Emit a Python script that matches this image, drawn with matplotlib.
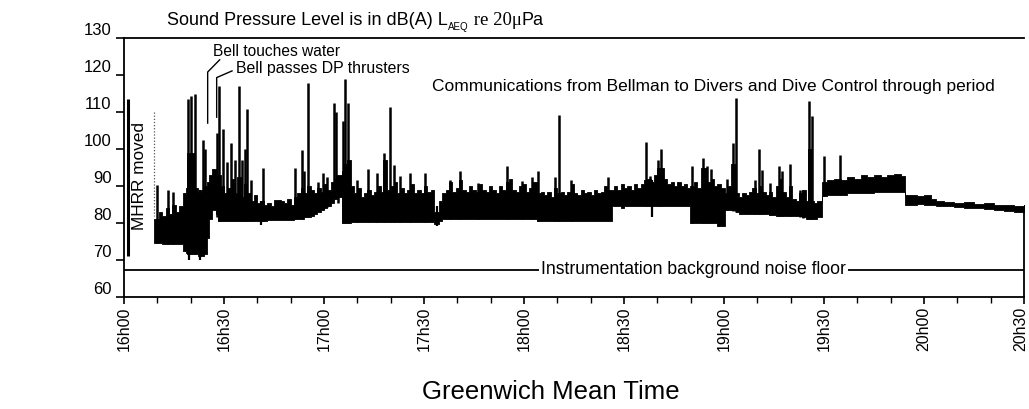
import numpy as np
import matplotlib
matplotlib.use("Agg")
import matplotlib.pyplot as plt
import matplotlib.transforms as mtransforms

W, H = 1029, 409

# ---------------- data (time in minutes after 16h00, level in dB(A)) ----------------
band_t = [9.0, 10.5, 11.5, 12.5, 13.5, 14.5, 15.5, 16.5, 17.6, 18.6, 19.0, 21.4, 22.2, 23.2, 24.0,
          24.8, 25.4, 26.3, 27.5, 28.2, 29.0, 30.0, 31.0, 32.0, 33.0, 34.0, 35.0, 36.0, 37.0, 38.0,
          39.0, 40.0, 41.0, 42.0, 43.0, 44.0, 45.0, 47.0, 48.0, 49.0, 50.0, 51.0, 52.0, 53.0, 54.0,
          55.0, 56.0, 57.0, 58.0, 59.0, 60.0, 61.0, 62.0, 63.0, 64.0, 65.3, 66.0, 67.0, 68.0, 69.0,
          70.0, 71.0, 72.0, 73.0, 74.0, 75.0, 76.0, 77.0, 77.8, 78.8, 80.0, 81.0, 82.0, 83.0, 84.0,
          85.0, 86.0, 87.0, 88.0, 89.0, 90.0, 91.0, 92.0, 93.0, 94.5, 95.5, 96.5, 97.5, 98.5, 99.5,
          100.5, 101.5, 102.5, 103.5, 104.5, 105.5, 106.5, 107.5, 108.5, 109.5, 110.5, 111.5, 112.5,
          113.5, 114.5, 115.5, 116.5, 117.5, 118.5, 119.5, 120.5, 121.5, 122.5, 123.8, 125.0, 126.0,
          127.0, 128.0, 129.0, 130.0, 131.0, 132.0, 133.0, 134.0, 135.0, 136.0, 137.0, 138.0, 139.0,
          140.0, 141.0, 142.0, 143.0, 144.0, 145.0, 146.3, 147.0, 148.0, 149.0, 150.0, 151.0, 152.0,
          153.0, 154.0, 155.0, 156.0, 157.0, 158.0, 159.0, 160.0, 162.0, 163.0, 164.0, 165.0, 166.0,
          167.0, 168.0, 169.0, 169.8, 171.0, 172.0, 173.0, 175.0, 176.0, 177.0, 178.0, 179.0, 180.3,
          181.3, 182.0, 183.5, 184.5, 185.5, 186.5, 187.5, 188.5, 189.5, 190.5, 191.5, 192.5, 193.5,
          194.5, 195.5, 196.5, 197.5, 198.5, 199.5, 200.5, 201.5, 202.5, 203.5, 204.5, 205.3, 206.3,
          207.0, 208.0, 209.3, 211.0, 213.0, 215.0, 217.0, 219.0, 221.0, 223.0, 225.0, 227.0, 229.0,
          231.0, 233.0, 234.3, 236.0, 238.0, 240.0, 242.0, 243.5, 246.0, 249.0, 252.0, 255.0, 258.0,
          261.0, 264.0, 267.0, 270.0]
band_lo = [74.5, 74.5, 74.3, 74.3, 74.3, 74.3, 74.3, 74.3, 72.5, 72.0, 71.5, 71.5, 71.0, 71.0, 71.5,
           76.0, 81.0, 83.5, 82.5, 80.5, 80.5, 80.5, 80.5, 80.5, 80.5, 80.5, 80.5, 80.5, 80.5, 80.5,
           80.5, 80.5, 80.5, 80.5, 80.7, 80.7, 80.7, 80.7, 80.7, 80.7, 80.7, 81.0, 81.0, 81.0, 81.5,
           81.5, 81.8, 82.5, 83.0, 83.5, 84.0, 84.5, 85.5, 86.5, 87.0, 80.0, 80.0, 80.0, 80.3, 80.3,
           80.3, 80.3, 80.3, 80.3, 80.3, 80.3, 80.3, 80.3, 80.3, 80.3, 80.3, 80.3, 80.3, 80.3, 80.3,
           80.3, 80.3, 80.3, 80.3, 80.3, 80.3, 80.3, 80.3, 79.8, 80.5, 81.0, 81.0, 81.0, 81.0, 81.0,
           81.0, 81.0, 81.0, 81.0, 81.0, 81.0, 81.0, 81.0, 81.0, 81.2, 81.2, 81.2, 81.2,
           81.2, 81.2, 81.2, 81.2, 81.2, 81.2, 81.2, 81.2, 81.2, 81.2, 80.5, 80.5, 80.5,
           80.5, 80.5, 80.5, 80.5, 80.5, 80.5, 80.5, 80.5, 80.5, 80.5, 80.5, 80.5, 80.5,
           80.5, 80.5, 80.5, 80.5, 80.5, 80.5, 84.5, 84.5, 84.5, 84.0, 84.5, 84.5, 84.5,
           84.5, 84.5, 84.5, 84.5, 84.5, 84.5, 84.5, 84.5, 84.5, 84.5, 84.5, 84.5, 84.5,
           84.5, 84.5, 84.5, 80.0, 80.0, 80.0, 80.0, 80.0, 80.0, 80.0, 79.3, 79.3, 83.5,
           83.5, 83.5, 83.0, 82.5, 82.5, 82.5, 82.5, 82.5, 82.5, 82.5, 82.5, 82.5, 82.2,
           82.2, 82.0, 82.0, 82.0, 81.8, 81.8, 81.8, 81.8, 81.8, 81.5, 81.0, 81.0, 81.0,
           81.0, 81.5, 87.3, 87.5, 87.5, 87.7, 88.0, 88.0, 88.0, 88.2, 88.3, 88.5, 88.5,
           88.5, 88.5, 84.8, 85.0, 85.2, 85.0, 85.0, 84.5, 84.5, 84.3, 84.0, 84.0, 83.7,
           83.5, 83.2, 83.0, 83.0]
band_hi = [81.0, 83.0, 82.0, 84.0, 82.5, 85.0, 83.0, 84.5, 88.0, 89.5, 99.0, 89.5, 88.5, 89.0, 90.0,
           91.0, 93.0, 94.5, 92.0, 93.0, 90.0, 88.0, 89.5, 92.0, 88.0, 92.5, 87.0, 90.5, 88.0, 86.0,
           87.5, 85.5, 86.0, 85.0, 85.5, 84.5, 86.3, 86.0, 85.5, 86.5, 85.0, 87.0, 88.0, 89.5, 88.0,
           90.0, 89.0, 88.0, 89.5, 88.5, 90.5, 89.0, 91.0, 92.0, 93.0, 94.0, 96.0, 97.0, 90.0, 88.0,
           89.5, 87.0, 88.0, 89.0, 87.5, 88.5, 90.0, 88.5, 97.0, 89.0, 90.0, 91.0, 88.0, 89.5, 88.0,
           89.0, 90.5, 88.0, 89.0, 88.0, 90.0, 88.5, 89.0, 83.0, 86.0, 88.0, 89.0, 91.0, 88.5, 89.5,
           91.5, 89.0, 88.5, 90.0, 89.0, 88.5, 90.5, 89.0, 88.5, 90.0, 89.0, 88.0, 90.0,
           89.0, 91.0, 92.0, 89.0, 88.5, 90.0, 90.5, 88.5, 89.5, 91.0, 88.0, 88.5, 87.5,
           88.5, 87.0, 89.5, 88.0, 88.5, 87.5, 88.5, 90.5, 88.0, 87.5, 89.0, 88.0, 88.5,
           87.5, 89.0, 88.0, 88.5, 90.0, 89.0, 89.0, 90.0, 89.0, 90.5, 89.5, 90.0, 89.0,
           90.5, 89.5, 90.5, 91.5, 92.0, 91.0, 93.0, 95.0, 92.0, 90.5, 91.0, 90.0, 91.0,
           90.0, 90.5, 89.5, 90.0, 91.0, 89.5, 95.0, 91.0, 92.0, 90.0, 90.5, 89.5, 88.0,
           90.0, 96.0, 88.0, 87.0, 88.0, 87.5, 88.5, 89.5, 88.0, 90.0, 88.5, 87.5, 88.5,
           87.0, 90.0, 92.0, 88.5, 87.0, 90.0, 86.5, 86.0, 88.0, 89.0, 86.0, 100.0, 86.0,
           85.5, 86.0, 91.0, 91.5, 92.0, 91.5, 92.5, 92.0, 93.0, 92.5, 93.0, 92.5, 93.0,
           93.3, 92.8, 87.5, 87.5, 87.3, 87.6, 86.5, 86.0, 85.8, 85.5, 85.6, 85.2, 85.3,
           85.0, 84.8, 84.6, 84.8]

spike_t = [10.0, 13.3, 14.8, 19.2, 20.2, 21.2, 23.8, 24.3, 27.8, 28.5, 29.6, 30.8, 32.1, 33.3,
           34.6, 35.5, 36.3, 37.0, 38.0, 41.8, 51.3, 53.3, 54.0, 55.3, 58.3, 59.8, 60.8, 63.0,
           63.6, 64.3, 65.6, 66.3, 67.3, 69.8, 73.3, 76.0, 78.1, 79.8, 81.1, 82.8, 85.8, 90.3,
           97.8, 100.8, 106.3, 114.8, 119.3, 122.3, 124.1, 129.3, 130.5, 134.1, 145.3, 156.6,
           157.8, 160.3, 161.0, 170.3, 173.6, 174.8, 176.1, 180.8, 182.6, 183.6, 189.3, 190.5,
           191.3, 193.8, 196.6, 197.3, 199.8, 202.8, 203.8, 205.6, 206.3, 210.1, 214.8]
spike_top = [90.3, 89.0, 88.5, 113.4, 114.3, 114.8, 102.5, 100.0, 104.3, 117.0, 105.3, 96.5, 101.5,
             97.0, 117.0, 97.0, 100.0, 110.7, 91.5, 95.0, 95.0, 99.6, 94.0, 117.8, 91.0, 93.6,
             92.5, 112.5, 110.0, 92.5, 107.6, 119.0, 112.5, 91.7, 94.7, 93.5, 98.9, 111.4, 95.7,
             92.6, 93.5, 93.5, 91.7, 94.0, 90.8, 95.3, 91.3, 92.5, 94.0, 92.5, 109.3, 91.7, 92.3,
             101.9, 92.6, 97.0, 100.1, 95.5, 97.7, 95.5, 94.5, 92.0, 101.6, 113.8, 91.7, 100.1,
             94.4, 90.8, 95.3, 94.0, 96.0, 89.0, 89.0, 113.0, 109.0, 98.0, 98.4]

dip_t = [19.6, 22.8, 41.0, 93.8, 158.3, 178.5]
dip_bottom = [70.0, 70.0, 79.5, 79.3, 81.7, 78.8]

edge_t = [1.2]
edge_lo = [71.0]
edge_hi = [113.5]

noise_floor = 67.3
mhrr_t = 9.0

tick_minutes = [0, 30, 60, 90, 120, 150, 180, 210, 240, 270]
tick_labels = ["16h00", "16h30", "17h00", "17h30", "18h00", "18h30",
               "19h00", "19h30", "20h00", "20h30"]
y_ticks = [60, 70, 80, 90, 100, 110, 120, 130]

# ---------------- figure ----------------
plt.rcParams["font.family"] = ["Liberation Sans", "DejaVu Sans"]
fig = plt.figure(figsize=(W / 100, H / 100), dpi=100)
L, R, T, B = 124, 1024, 38, 297
ax = fig.add_axes([L / W, 1 - B / H, (R - L) / W, (B - T) / H])
ax.set_xlim(0, 270)
ax.set_ylim(60, 130)

bt = np.array(band_t)
blo = np.array(band_lo)
bhi = np.array(band_hi)
ax.fill_between(bt, blo, bhi, step="post", color="black", lw=0.6, edgecolor="black")

st = np.array(spike_t)
ax.vlines(st, np.interp(st, bt, blo), spike_top, color="black", lw=1.8)
dt = np.array(dip_t)
ax.vlines(dt, dip_bottom, np.interp(dt, bt, bhi), color="black", lw=1.6)
ax.vlines(edge_t, edge_lo, edge_hi, color="black", lw=2.2)

# MHRR marker
ax.plot([mhrr_t, mhrr_t], [110, 82], color="#555555", lw=0.9, ls=(0, (1, 1.5)))

# noise floor
ax.axhline(noise_floor, color="black", lw=1.3)
ax.text(170.9, noise_floor, "Instrumentation background noise floor", fontsize=12.7,
        ha="center", va="center",
        bbox=dict(facecolor="white", edgecolor="none", pad=1.5))

# spines and ticks
for s in ["left", "bottom", "top"]:
    ax.spines[s].set_linewidth(1.3)
ax.spines["right"].set_linewidth(1.3)
ax.spines["right"].set_bounds(60, 84)

ax.set_yticks(y_ticks, labels=[str(v) for v in y_ticks], va="bottom")
ax.tick_params(axis="y", direction="out", length=6, width=1.2, pad=3, labelsize=12)
ax.set_xticks(tick_minutes, labels=tick_labels, rotation=90)
ax.set_xticks(np.arange(0, 271, 10), minor=True)
ax.tick_params(axis="x", which="major", direction="out", length=5, width=1.2, pad=2, labelsize=11.5)
ax.tick_params(axis="x", which="minor", direction="out", length=4, width=1.0)
last = ax.get_xticklabels()[-1]
last.set_transform(last.get_transform() + mtransforms.ScaledTranslation(-3 / 100, 0, fig.dpi_scale_trans))


def px(x, y):
    return x / W, 1 - y / H


# title chain
t1 = fig.text(*px(167, 29), "Sound Pressure Level is in dB(A) L", fontsize=13,
              ha="left", va="bottom")
sub = ax.annotate("AEQ", xy=(1, 0), xycoords=t1, xytext=(0.5, -2), textcoords="offset points",
                  fontsize=7, ha="left", va="bottom", annotation_clip=False)
ser = ax.annotate(" re 20\u03bc", xy=(1, 0), xycoords=(sub, t1), xytext=(0, 0),
                  textcoords="offset points", fontsize=13.5, family="Liberation Serif",
                  ha="left", va="bottom", annotation_clip=False)
pa = ax.annotate("Pa", xy=(1, 0), xycoords=(ser, t1), xytext=(0, 0),
                 textcoords="offset points", fontsize=13, ha="left", va="bottom",
                 annotation_clip=False)

# annotations
fig.text(*px(213, 51), "Bell touches water", fontsize=11.2, ha="left", va="center")
fig.text(*px(236, 69), "Bell passes DP thrusters", fontsize=11.4, ha="left", va="center")
ax.plot([28.7, 25.1, 25.1], [124.1, 120.8, 107.0], color="black", lw=1.0, clip_on=False)
ax.plot([32.4, 27.8, 27.8], [121.1, 119.3, 108.6], color="black", lw=1.0, clip_on=False)
fig.text(*px(432, 87), "Communications from Bellman to Divers and Dive Control through period",
         fontsize=12.5, ha="left", va="center")
fig.text(*px(140, 176), "MHRR moved", fontsize=12.4, rotation=90, ha="center", va="center")

fig.text(*px(551, 392), "Greenwich Mean Time", fontsize=18.5, ha="center", va="center")

fig.savefig("out.png", dpi=100, facecolor="white")
